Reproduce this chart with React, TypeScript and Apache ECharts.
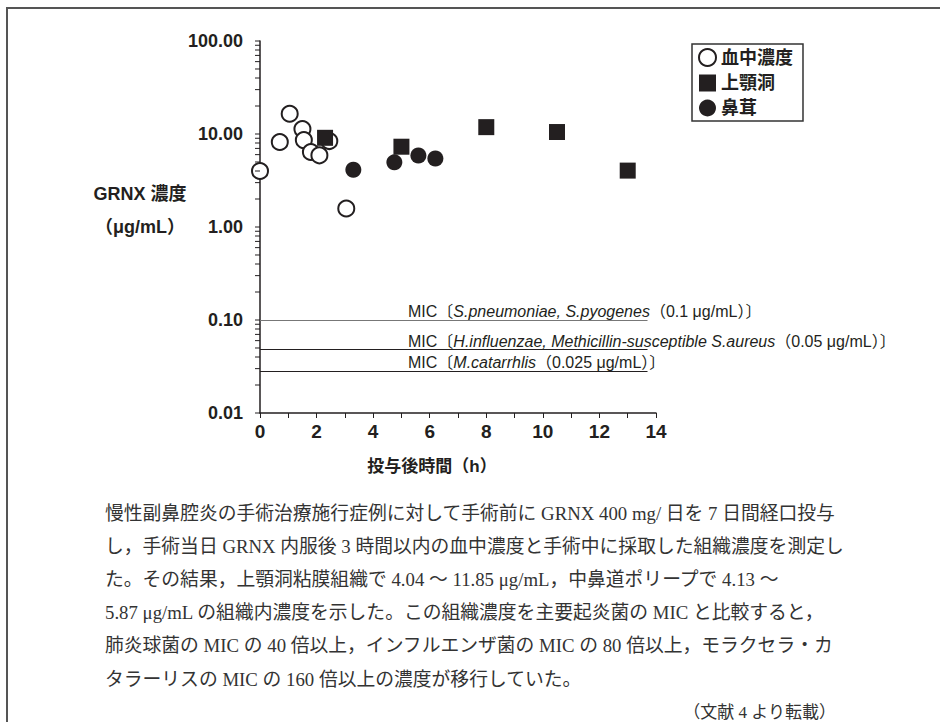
import React, { useEffect, useRef } from "react";
import * as echarts from "echarts";

// ---- data ----
const seriesNames = ["血中濃度", "上顎洞", "鼻茸"];
const bloodTime = [0, 0.7, 1.05, 1.5, 1.55, 1.8, 2.1, 2.45, 3.05];
const bloodConc = [4.0, 8.2, 16.5, 11.3, 8.6, 6.4, 5.9, 8.4, 1.58];
const sinusTime = [2.3, 5.0, 8.0, 10.5, 13.0];
const sinusConc = [9.1, 7.3, 11.85, 10.5, 4.04];
const polypTime = [3.3, 4.75, 5.6, 6.2];
const polypConc = [4.13, 4.96, 5.87, 5.45];
const micValues = [0.1, 0.048, 0.028];
const micStart = 0;
const micEnd = 13.7;
const micLabels = [
  "MIC〔{i|S.pneumoniae, S.pyogenes}（0.1 μg/mL）〕",
  "MIC〔{i|H.influenzae, Methicillin-susceptible S.aureus}（0.05 μg/mL）〕",
  "MIC〔{i|M.catarrhlis}（0.025 μg/mL）〕",
];
const yMin = 0.01;
const yMax = 100;
const xMin = 0;
const xMax = 14;
const yTickValues: number[] = [];
for (const d of [0.01, 0.1, 1, 10]) {
  for (let m = 1; m <= 9; m++) yTickValues.push(+(d * m).toPrecision(3));
}
yTickValues.push(100);
const xAxisTitle = "投与後時間（h）";
const yAxisTitle1 = "GRNX 濃度";
const yAxisTitle2 = "（μg/mL）";
const captionLines = [
  "慢性副鼻腔炎の手術治療施行症例に対して手術前に GRNX 400 mg/ 日を 7 日間経口投与",
  "し，手術当日 GRNX 内服後 3 時間以内の血中濃度と手術中に採取した組織濃度を測定し",
  "た。その結果，上顎洞粘膜組織で 4.04 ～ 11.85 μg/mL，中鼻道ポリープで 4.13 ～",
  "5.87 μg/mL の組織内濃度を示した。この組織濃度を主要起炎菌の MIC と比較すると，",
  "肺炎球菌の MIC の 40 倍以上，インフルエンザ菌の MIC の 80 倍以上，モラクセラ・カ",
  "タラーリスの MIC の 160 倍以上の濃度が移行していた。",
];
const citation = "（文献 4 より転載）";

const SANS = "'Liberation Sans', 'Noto Sans CJK JP', sans-serif";
const SERIF = "'Liberation Serif', 'Noto Sans CJK JP', serif";
const INK = "#231f20";

export default function App() {
  const ref = useRef<HTMLDivElement>(null);
  useEffect(() => {
    if (!ref.current) return;
    const chart = echarts.init(ref.current, undefined, { renderer: "svg" });
    const gridLeft = 260, gridTop = 41, gridW = 396, gridH = 372;

    const graphics: any[] = [
      {
        type: "polyline",
        shape: { points: [[7, 722], [7, 8], [940, 8]] },
        style: { stroke: "#555", lineWidth: 2, fill: null },
        silent: true,
      },
      {
        type: "text",
        x: 140, y: 194,
        style: { text: yAxisTitle1, font: `bold 18px ${SANS}`, fill: INK, textAlign: "center", textVerticalAlign: "middle" },
      },
      {
        type: "text",
        x: 140, y: 227,
        style: { text: yAxisTitle2, font: `bold 18px ${SANS}`, fill: INK, textAlign: "center", textVerticalAlign: "middle" },
      },
      {
        type: "text",
        x: 432, y: 466,
        style: { text: xAxisTitle, font: `bold 17px ${SANS}`, fill: INK, textAlign: "center", textVerticalAlign: "middle" },
      },
    ];
    const micLabelY = [311, 341, 362];
    micLabels.forEach((t, i) => {
      graphics.push({
        type: "text",
        x: 408, y: micLabelY[i],
        style: {
          text: t,
          font: `16px ${SANS}`,
          fill: INK,
          textVerticalAlign: "middle",
          rich: { i: { fontStyle: "italic", fontSize: 16, fontFamily: SANS, fill: INK } },
        },
      });
    });
    captionLines.forEach((t, i) => {
      graphics.push({
        type: "text",
        x: 105, y: 513 + i * 33.2,
        style: { text: t, font: `18.8px ${SERIF}`, fill: "#333", textVerticalAlign: "middle" },
      });
    });
    graphics.push({
      type: "text",
      x: 836, y: 712,
      style: { text: citation, font: `17px ${SERIF}`, fill: "#333", textAlign: "right", textVerticalAlign: "middle" },
    });

    const micLineColors = ["#777", INK, INK];

    chart.setOption({
      animation: false,
      backgroundColor: "#fff",
      grid: { left: gridLeft, top: gridTop, width: gridW, height: gridH, containLabel: false },
      legend: {
        data: seriesNames,
        orient: "vertical",
        left: 692,
        top: 44,
        padding: [4, 10, 4, 6],
        itemGap: 7,
        itemWidth: 17,
        itemHeight: 17,
        borderColor: "#333",
        borderWidth: 1.5,
        textStyle: { fontSize: 18, fontWeight: "bold", color: INK, fontFamily: SANS },
      },
      xAxis: {
        type: "value",
        min: xMin,
        max: xMax,
        interval: 1,
        axisLine: { show: true, lineStyle: { color: INK, width: 1.5 } },
        axisTick: { show: true, length: 5, lineStyle: { color: INK } },
        axisLabel: {
          margin: 9,
          fontSize: 19,
          fontWeight: "bold",
          color: INK,
          fontFamily: SANS,
          formatter: (v: number) => (Math.round(v) % 2 === 0 ? String(Math.round(v)) : ""),
        },
        splitLine: { show: false },
      },
      yAxis: {
        type: "log",
        logBase: 10,
        min: yMin,
        max: yMax,
        axisLine: { show: true, lineStyle: { color: INK, width: 1.5 } },
        axisTick: { show: false },
        axisLabel: {
          margin: 17,
          fontSize: 18,
          fontWeight: "bold",
          color: INK,
          fontFamily: SANS,
          formatter: (v: number) => v.toFixed(2),
        },
        splitLine: { show: false },
        minorTick: { show: false },
      },
      series: [
        {
          name: seriesNames[0],
          type: "scatter",
          symbol: "circle",
          symbolSize: 16,
          itemStyle: { color: "#fff", borderColor: INK, borderWidth: 2, opacity: 1 },
          data: bloodTime.map((t, i) => [t, bloodConc[i]]),
          z: 3,
        },
        {
          name: seriesNames[1],
          type: "scatter",
          symbol: "rect",
          symbolSize: 16,
          itemStyle: { color: INK, opacity: 1 },
          data: sinusTime.map((t, i) => [t, sinusConc[i]]),
          z: 4,
          markLine: {
            silent: true,
            symbol: ["none", "none"],
            label: { show: false },
            data: micValues.map((v, i) => [
              { coord: [micStart, v], lineStyle: { color: micLineColors[i], width: 1.2, type: "solid" } },
              { coord: [micEnd, v] },
            ]),
          },
        },
        {
          name: seriesNames[2],
          type: "scatter",
          symbol: "circle",
          symbolSize: 16,
          itemStyle: { color: INK, opacity: 1 },
          data: polypTime.map((t, i) => [t, polypConc[i]]),
          z: 4,
        },
        {
          name: "ticks",
          type: "custom",
          silent: true,
          clip: false,
          data: yTickValues.map((v) => [xMin, v]),
          renderItem: (params: any, api: any) => {
            const p = api.coord([xMin, api.value(1)]);
            return {
              type: "line",
              shape: { x1: p[0] - 5, y1: p[1], x2: p[0], y2: p[1] },
              style: { stroke: INK, lineWidth: 1 },
            };
          },
          z: 5,
        },
      ],
      graphic: graphics,
    });
    return () => chart.dispose();
  }, []);
  return (
    <div
      ref={ref}
      style={{ position: "fixed", left: 0, top: 0, width: 940, height: 722, background: "#fff" }}
    />
  );
}
